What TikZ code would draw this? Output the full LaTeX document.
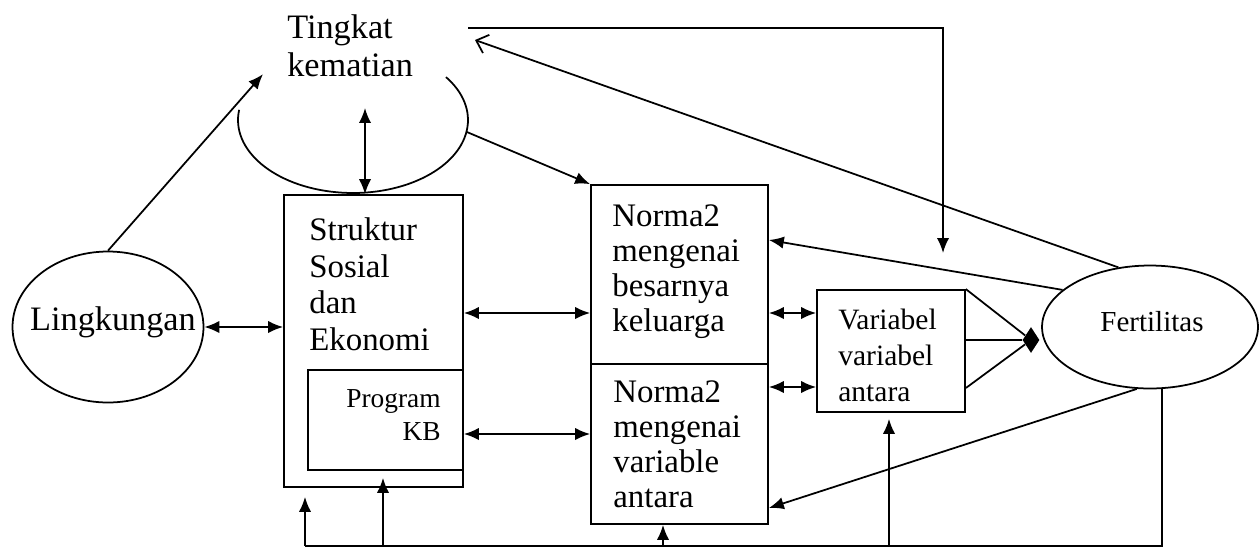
\documentclass[tikz,border=0pt]{standalone}
\usepackage{fontspec}
\setmainfont{Liberation Serif}
\usetikzlibrary{arrows.meta,shapes.geometric,fit}
\tikzset{
  box/.style = {draw = black, line width = 1pt, inner sep = 0pt},
  txt/.style = {inner sep = 0pt, align = left},
  ln/.style = {line width = 1pt},
  arr/.style = {line width = 1pt, -{Latex[length = 8.5pt, width = 7pt]}},
  dbl/.style = {line width = 1pt, {Latex[length = 8.5pt, width = 7pt]}-{Latex[length = 8.5pt, width = 7pt]}}
}
\begin{document}
\begin{tikzpicture}[x = 0.02cm, y = -0.02cm]
\useasboundingbox (0,0) rectangle (1260,549);
\node[txt, anchor = north west, font = \fontsize{19.5}{22.1}\selectfont] (kematian) at (287,14) {Tingkat\\kematian};
\node[ellipse, inner sep = 0pt, minimum width = 4.6cm, minimum height = 2.92cm] (tk) at (353,120) {};
\draw[ln] ([shift = {(172:2.3cm and 1.46cm)}]tk.center) arc[start angle = 172, end angle = 396, x radius = 2.3cm, y radius = 1.46cm];
\node[ellipse, box, minimum width = 3.82cm, minimum height = 3.02cm] (lingkungan) at (108,327) {};
\node[font = \fontsize{19.5}{22}\selectfont] (lingkunganT) at ([shift = {(5,-5)}]lingkungan.center) {Lingkungan};
\node[ellipse, box, minimum width = 4.32cm, minimum height = 2.46cm] (fert) at (1150,327) {};
\node[font = \fontsize{16.5}{20}\selectfont] (fertT) at ([shift = {(2,-5)}]fert.center) {Fertilitas};
\node[box, fit = {(284,195) (463,487)}] (struktur) {};
\node[box, fit = {(308,370) (463,470)}] (program) {};
\node[box, fit = {(591,185) (768,364)}] (normaA) {};
\node[box, fit = {(591,364) (768,524)}] (normaB) {};
\node[box, fit = {(817,290) (965,412)}] (var) {};
\node[diamond, fill = black, inner sep = 0pt, minimum width = 0.34cm, minimum height = 0.52cm] (joint) at (1031,340) {};
\node[txt, anchor = north west, font = \fontsize{18.7}{21}\selectfont] (strukturT) at (309,217) {Struktur\\Sosial\\dan\\Ekonomi};
\node[txt, align = right, anchor = north east, font = \fontsize{15.6}{18.7}\selectfont] (programT) at (441,389) {Program\\KB};
\node[txt, anchor = north west, font = \fontsize{18.7}{20}\selectfont] (normaAT) at (612,204) {Norma2\\mengenai\\besarnya\\keluarga};
\node[txt, anchor = north west, font = \fontsize{18.7}{20}\selectfont] (normaBT) at (613,380) {Norma2\\mengenai\\variable\\antara};
\node[txt, anchor = north west, font = \fontsize{16.8}{20.4}\selectfont] (varT) at (838,309) {Variabel\\variabel\\antara};
\coordinate (tkin) at (365,108);
\coordinate (tingkatTip) at (475,40);
\coordinate (topA) at (468,28);
\coordinate (topB) at (943,253);
\coordinate (botL) at (305,546);
\coordinate (botR) at (1162,546);
\draw[arr] (lingkungan.north) -- (tk.153);
\draw[dbl] (tkin) -- (tkin |- struktur.north);
\draw[arr] (tk.-6) -- (normaA.north west);
\draw[dbl] (lingkungan.east) -- (lingkungan.east -| struktur.west);
\draw[dbl] (struktur.east |- 0,313) -- (normaA.west |- 0,313);
\draw[dbl] (program.east |- 0,434) -- (normaB.west |- 0,434);
\draw[dbl] (normaA.east |- 0,313) -- (var.west |- 0,313);
\draw[dbl] (normaB.east |- 0,387) -- (var.west |- 0,387);
\draw[ln] (var.north east) -- (joint) (var.east |- joint) -- (joint) (var.east |- 0,388) -- (joint);
\draw[arr] (fert.157) -- (normaA.east |- 0,240);
\draw[ln, -{Straight Barb[length = 6pt, width = 11pt]}] (fert.118) -- (tingkatTip);
\draw[arr] (topA) -| (topB);
\draw[arr] (fert.-102) -- (normaB.east |- 0,508);
\draw[ln] (botR |- fert.south) -- (botR) -- (botL);
\draw[arr, shorten > = 0.18cm] (botL) -- (botL |- struktur.south);
\foreach \n/\tgt/\gap in {383/program/0.14cm, 663/normaB/0cm, 889/var/0.12cm}
  \draw[arr, shorten > = \gap] (\n,546) -- (\n,0 |- \tgt.south);
\end{tikzpicture}
\end{document}
